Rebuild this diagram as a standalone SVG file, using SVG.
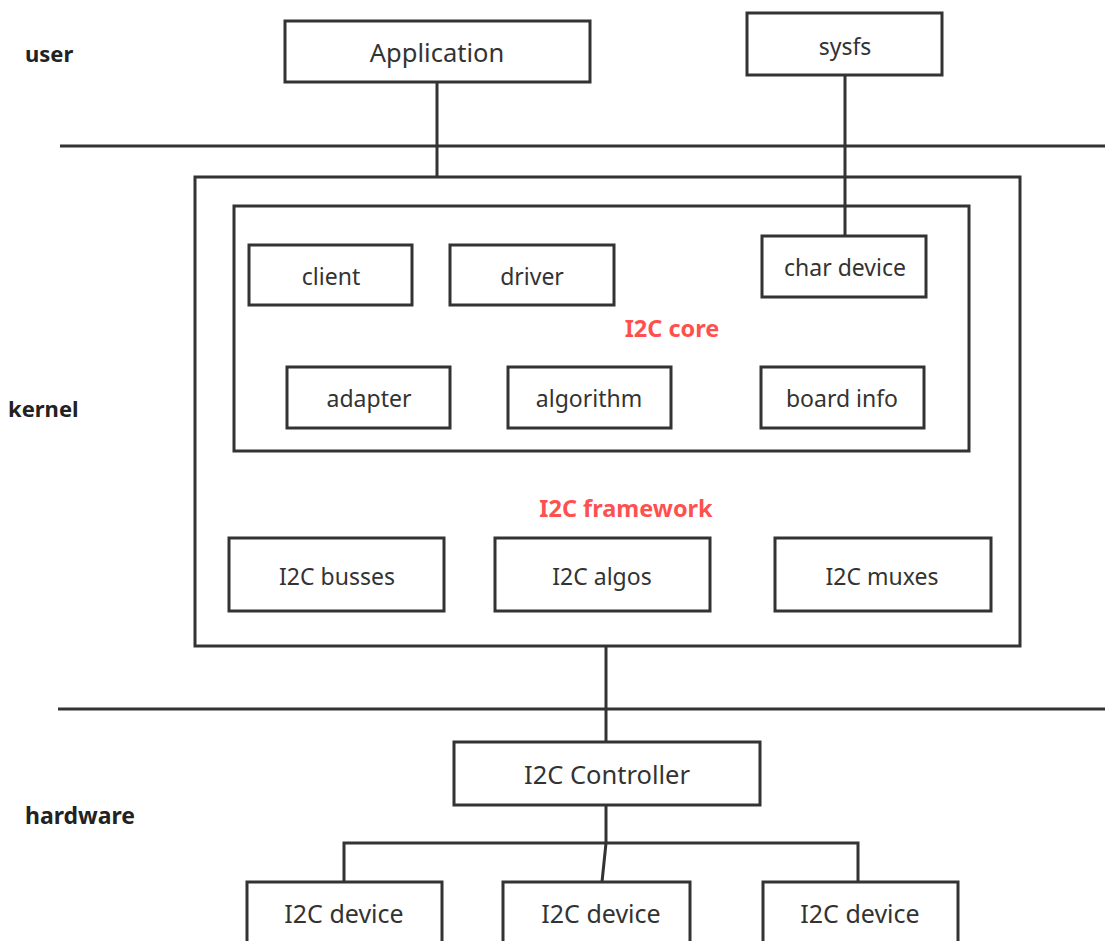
<svg xmlns="http://www.w3.org/2000/svg" width="1105" height="941" viewBox="0 0 1105 941">
<style>
.box{fill:#fff;stroke:#333;stroke-width:3}
.frame{fill:none;stroke:#333;stroke-width:3}
.ln{fill:none;stroke:#333;stroke-width:3}
.t{font-family:"Noto Sans","Open Sans",sans-serif;font-size:23px;fill:#333;text-anchor:middle;dominant-baseline:central}
.big{font-size:25.5px}
.hw{font-size:25px}
.lbl{font-family:"Noto Sans","Open Sans",sans-serif;font-size:22px;font-weight:bold;fill:#222;dominant-baseline:central}
.red{font-family:"Noto Sans","Open Sans",sans-serif;font-size:23.5px;font-weight:bold;fill:#ff5050;text-anchor:middle;dominant-baseline:central}
</style>
<rect width="1105" height="941" fill="#fff"/>
<g id="layers">
<text class="lbl" x="25" y="53">user</text>
<text class="lbl" x="8" y="408">kernel</text>
<text class="lbl" x="25" y="815" style="font-size:23px">hardware</text>
</g>
<g id="connectors">
<line class="ln" x1="60" y1="146" x2="1105" y2="146"/>
<line class="ln" x1="58" y1="709" x2="1105" y2="709"/>
<line class="ln" x1="437" y1="82" x2="437" y2="177"/>
<line class="ln" x1="845" y1="75" x2="845" y2="236"/>
<line class="ln" x1="606" y1="646" x2="606" y2="742"/>
<line class="ln" x1="606" y1="805" x2="606" y2="843"/>
<polyline class="ln" points="344,882 344,843 858,843 858,882"/>
<line class="ln" x1="606" y1="843" x2="602" y2="882"/>
</g>
<g id="kernel-frame">
<rect class="frame" x="195" y="177" width="825" height="469"/>
<text class="red" x="626" y="508">I2C framework</text>
</g>
<g id="i2c-core">
<rect class="frame" x="234" y="206" width="735" height="245"/>
<text class="red" x="672" y="328">I2C core</text>
</g>
<g id="application"><rect class="box" x="285" y="21" width="305" height="61"/><text class="t big" x="437" y="52">Application</text></g>
<g id="sysfs"><rect class="box" x="747" y="13" width="195" height="62"/><text class="t" x="845" y="46">sysfs</text></g>
<g id="client"><rect class="box" x="249" y="245" width="163" height="60"/><text class="t" x="331" y="276">client</text></g>
<g id="driver"><rect class="box" x="450" y="245" width="164" height="60"/><text class="t" x="532" y="276">driver</text></g>
<g id="char-device"><rect class="box" x="762" y="236" width="164" height="61"/><text class="t" x="845" y="267">char device</text></g>
<g id="adapter"><rect class="box" x="287" y="367" width="163" height="61"/><text class="t" x="369" y="398">adapter</text></g>
<g id="algorithm"><rect class="box" x="508" y="367" width="163" height="61"/><text class="t" x="589" y="398">algorithm</text></g>
<g id="board-info"><rect class="box" x="761" y="367" width="163" height="61"/><text class="t" x="842" y="398">board info</text></g>
<g id="i2c-busses"><rect class="box" x="229" y="538" width="215" height="73"/><text class="t" x="337" y="576">I2C busses</text></g>
<g id="i2c-algos"><rect class="box" x="495" y="538" width="215" height="73"/><text class="t" x="602" y="576">I2C algos</text></g>
<g id="i2c-muxes"><rect class="box" x="775" y="538" width="216" height="73"/><text class="t" x="882" y="576">I2C muxes</text></g>
<g id="i2c-controller"><rect class="box" x="454" y="742" width="306" height="63"/><text class="t big" x="607" y="774">I2C Controller</text></g>
<g id="i2c-device-1"><rect class="box" x="247" y="882" width="195" height="70"/><text class="t hw" x="344" y="913">I2C device</text></g>
<g id="i2c-device-2"><rect class="box" x="503" y="882" width="187" height="70"/><text class="t hw" x="601" y="913">I2C device</text></g>
<g id="i2c-device-3"><rect class="box" x="763" y="882" width="195" height="70"/><text class="t hw" x="860" y="913">I2C device</text></g>
</svg>
